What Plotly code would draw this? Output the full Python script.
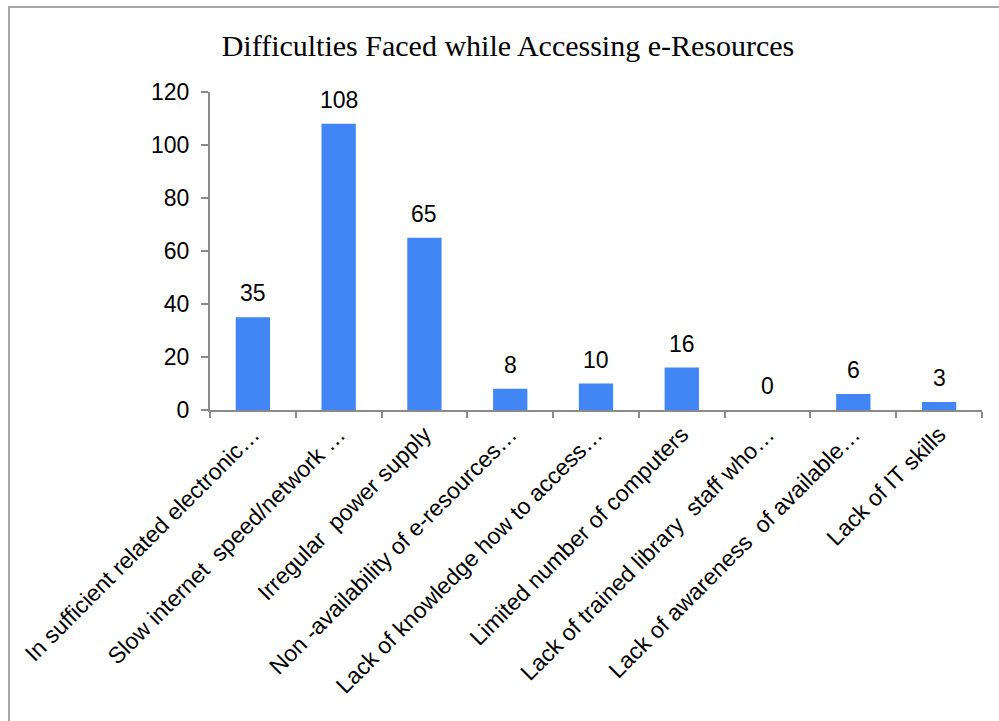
import plotly.graph_objects as go

# Survey responses: difficulties faced while accessing e-resources
categories = [
    "In sufficient related electronic…",
    "Slow internet  speed/network …",
    "Irregular  power supply",
    "Non -availability of e-resources…",
    "Lack of knowledge how to access…",
    "Limited number of computers",
    "Lack of trained library  staff who…",
    "Lack of awareness  of available…",
    "Lack of IT skills",
]
responses = [35, 108, 65, 8, 10, 16, 0, 6, 3]
y_ticks = [0, 20, 40, 60, 80, 100, 120]

W, H = 999, 721
# plot area in pixels
PX_L, PX_R, PX_T, PX_B = 210, 982, 92, 410

BAR_BLUE = "#4285F4"
AXIS_GREY = "#8a8a8a"
SANS = "Liberation Sans, Arial, sans-serif"
SERIF = "Liberation Serif, Times New Roman, serif"

fig = go.Figure()
fig.add_trace(
    go.Bar(
        x=categories,
        y=responses,
        marker=dict(color=BAR_BLUE, line=dict(width=0)),
        width=0.4,
        hoverinfo="x+y",
    )
)

# value labels above each bar
for cat, val in zip(categories, responses):
    fig.add_annotation(
        x=cat, y=val, text=str(val), showarrow=False,
        yanchor="bottom", yshift=9,
        font=dict(family=SANS, size=23, color="#000000"),
    )

# outer chart frame
pw, ph = PX_R - PX_L, PX_B - PX_T
fig.add_shape(
    type="rect", xref="paper", yref="paper",
    x0=(9 - PX_L) / pw, x1=(W + 20 - PX_L) / pw,
    y0=(PX_B - (H + 20)) / ph, y1=(PX_B - 7) / ph,
    line=dict(color="#a6a6a6", width=2), fillcolor="rgba(0,0,0,0)",
    layer="below",
)

fig.update_layout(
    width=W, height=H,
    margin=dict(l=PX_L, r=W - PX_R, t=PX_T, b=H - PX_B, autoexpand=False),
    paper_bgcolor="white", plot_bgcolor="white",
    showlegend=False,
    title=dict(
        text="Difficulties Faced while Accessing e-Resources",
        font=dict(family=SERIF, size=30, color="#000000"),
        x=508 / W, xanchor="center", xref="container",
        y=1 - 45 / H, yanchor="middle", yref="container",
    ),
    bargap=0.6,
)

fig.update_xaxes(
    type="category",
    showline=True, linecolor=AXIS_GREY, linewidth=2,
    ticks="outside", tickson="boundaries", ticklen=6, tickcolor=AXIS_GREY, tickwidth=2,
    tickangle=-45,
    tickfont=dict(family=SANS, size=23, color="#000000"),
    showgrid=False, zeroline=False,
)
fig.update_yaxes(
    range=[0, 120],
    tickvals=y_ticks, ticktext=[str(v) for v in y_ticks],
    showline=True, linecolor=AXIS_GREY, linewidth=2,
    ticks="outside", ticklen=7, tickcolor=AXIS_GREY, tickwidth=2,
    tickfont=dict(family=SANS, size=23, color="#000000"),
    ticklabelstandoff=7,
    showgrid=False, zeroline=False,
)

fig.write_html("out.html")
